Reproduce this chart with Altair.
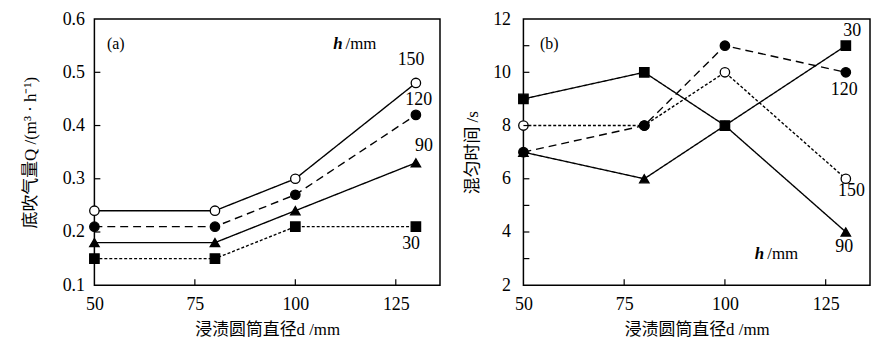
import altair as alt
import pandas as pd

# ---------------- data ----------------
d_vals = [50, 80, 100, 130]
series = ["150", "120", "90", "30"]

# panel (a): bottom-blowing gas flow Q (m3/h)
qa_150 = [0.24, 0.24, 0.30, 0.48]
qa_120 = [0.21, 0.21, 0.27, 0.42]
qa_90 = [0.18, 0.18, 0.24, 0.33]
qa_30 = [0.15, 0.15, 0.21, 0.21]

# panel (b): mixing time (s)
tb_150 = [8, 8, 10, 6]
tb_120 = [7, 8, 11, 10]
tb_90 = [7, 6, 8, 4]
tb_30 = [9, 10, 8, 11]

# series label positions (data coords)
a_lab_text = ["150", "120", "90", "30"]
a_lab_x = [128.8, 130.7, 132.0, 128.8]
a_lab_y = [0.523, 0.447, 0.361, 0.177]

b_lab_text = ["30", "120", "150", "90"]
b_lab_x = [131.6, 129.6, 131.4, 129.6]
b_lab_y = [11.56, 9.35, 5.53, 3.43]

a_x_ticks = [75, 100, 125]
a_y_ticks = [0.2, 0.3, 0.4, 0.5]
b_x_ticks = [75, 100, 125]
b_y_ticks = [3, 4, 5, 6, 7, 8, 9, 10, 11]

SERIF = "Liberation Serif"
TITLEFONT = "Liberation Serif, Noto Sans CJK SC"

W_A, W_B, H = 348, 349, 268
XDOM = [50, 136]
FS = 17


def long_df(vals):
    rows = []
    for s, v in zip(series, vals):
        for d, y in zip(d_vals, v):
            rows.append({"d": d, "v": y, "h": s})
    return pd.DataFrame(rows)


dash_a = dict(domain=series, range=[[1, 0], [8, 5], [1, 0], [3, 2]])
dash_b = dict(domain=series, range=[[3, 2], [8, 5], [1, 0], [1, 0]])
shape_scale = dict(domain=series, range=["circle", "circle", "triangle-up", "square"])
fill_scale = dict(domain=series, range=["white", "black", "black", "black"])


def make_panel(df, ydom, yvals, yfmt, ytitle, labdf, xt, yt, tag, tag_xy, hmm_xy,
               width, dashes, ytitlepad, ylabpad):
    def X():
        return alt.X("d:Q", scale=alt.Scale(domain=XDOM, nice=False, zero=False),
                     axis=alt.Axis(values=[50, 75, 100, 125], title="浸渍圆筒直径d /mm",
                                   ticks=False, domain=False, grid=False, labelFlush=False,
                                   labelPadding=10, titlePadding=9))

    def Y():
        return alt.Y("v:Q", scale=alt.Scale(domain=ydom, nice=False, zero=False),
                     axis=alt.Axis(values=yvals, format=yfmt, title=ytitle,
                                   ticks=False, domain=False, grid=False, labelFlush=False,
                                   labelPadding=ylabpad, titlePadding=ytitlepad,
                                   minExtent=40, maxExtent=40))

    lines = alt.Chart(df).mark_line(color="black", strokeWidth=1.4).encode(
        x=X(), y=Y(),
        strokeDash=alt.StrokeDash("h:N", scale=alt.Scale(**dashes), legend=None),
    )
    pts = alt.Chart(df).mark_point(filled=True, stroke="black", strokeWidth=1.3,
                                   size=90, opacity=1).encode(
        x=X(), y=Y(),
        shape=alt.Shape("h:N", scale=alt.Scale(**shape_scale), legend=None),
        fill=alt.Fill("h:N", scale=alt.Scale(**fill_scale), legend=None),
    )
    labs = alt.Chart(labdf).mark_text(font=SERIF, fontSize=18, color="black").encode(
        x=X(), y=Y(), text="t:N")
    tagdf = pd.DataFrame({"d": [tag_xy[0]], "v": [tag_xy[1]], "t": [tag]})
    tagm = alt.Chart(tagdf).mark_text(font=SERIF, fontSize=16, color="black").encode(
        x=X(), y=Y(), text="t:N")
    hdf = pd.DataFrame({"d": [hmm_xy[0]], "v": [hmm_xy[1]], "t": ["h"]})
    hm = alt.Chart(hdf).mark_text(font=SERIF, fontSize=FS, fontStyle="italic",
                                  fontWeight="bold", align="right", dx=-1,
                                  color="black").encode(x=X(), y=Y(), text="t:N")
    mdf = pd.DataFrame({"d": [hmm_xy[0]], "v": [hmm_xy[1]], "t": ["/mm"]})
    mm = alt.Chart(mdf).mark_text(font=SERIF, fontSize=FS, align="left", dx=2,
                                  color="black").encode(x=X(), y=Y(), text="t:N")
    xtd = pd.DataFrame({"d": xt})
    xtick = alt.Chart(xtd).mark_rule(color="black", strokeWidth=1.2).encode(
        x=X(), y=alt.value(H), y2=alt.value(H - 6))
    ytd = pd.DataFrame({"v": yt})
    ytick = alt.Chart(ytd).mark_rule(color="black", strokeWidth=1.2).encode(
        y=Y(), x=alt.value(0), x2=alt.value(6))
    return alt.layer(lines, pts, labs, tagm, hm, mm, xtick, ytick).properties(
        width=width, height=H)


dfa = long_df([qa_150, qa_120, qa_90, qa_30])
dfb = long_df([tb_150, tb_120, tb_90, tb_30])
laba = pd.DataFrame({"d": a_lab_x, "v": a_lab_y, "t": a_lab_text})
labb = pd.DataFrame({"d": b_lab_x, "v": b_lab_y, "t": b_lab_text})

pa = make_panel(dfa, [0.1, 0.6], [0.1, 0.2, 0.3, 0.4, 0.5, 0.6], ".1f",
                "底吹气量Q /(m³ · h⁻¹)", laba, a_x_ticks, a_y_ticks,
                "(a)", (55.3, 0.554), (112.0, 0.554), W_A, dash_a, 15, 10)
pb = make_panel(dfb, [2, 12], [2, 4, 6, 8, 10, 12], "d",
                "混匀时间 /s", labb, b_x_ticks, b_y_ticks,
                "(b)", (56.4, 11.08), (110.0, 3.18), W_B, dash_b, 2, 13)

chart = alt.hconcat(pa, pb, spacing=22).resolve_scale(
    strokeDash="independent", shape="independent", fill="independent"
).properties(
    padding={"left": 13, "top": 0, "right": 0, "bottom": 0}
).configure_view(stroke="black", strokeWidth=1.5).configure_axis(
    labelFont=SERIF, labelFontSize=18, labelColor="black",
    titleFont=TITLEFONT, titleFontSize=17, titleFontWeight="normal", titleColor="black",
)

chart.save("out.html", embed_options={"renderer": "svg", "actions": False})
